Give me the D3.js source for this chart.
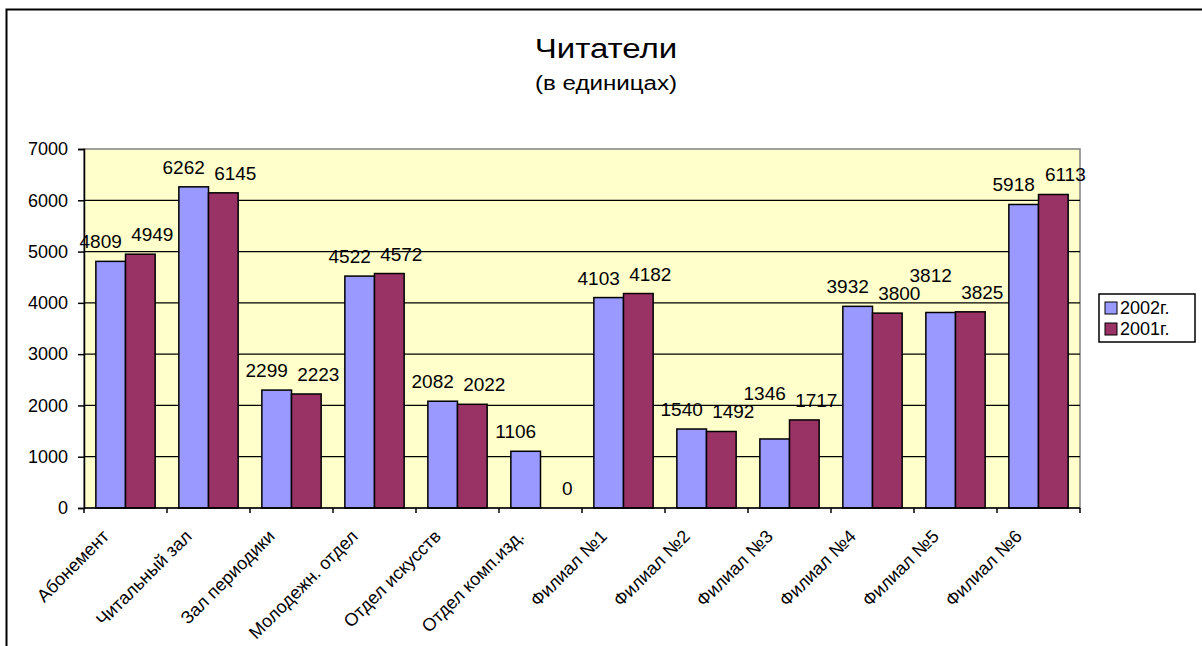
<!DOCTYPE html>
<html>
<head>
<meta charset="utf-8">
<script src="https://cdn.jsdelivr.net/npm/d3@7"></script>
<style>
  body { margin: 0; background: #fff; }
  text { font-family: "Liberation Sans", Arial, sans-serif; fill: #000; }
</style>
</head>
<body>
<svg id="chart"></svg>
<script>
// data
var categories = ["Абонемент", "Читальный зал", "Зал периодики", "Молодежн. отдел",
  "Отдел искусств", "Отдел комп.изд.", "Филиал №1", "Филиал №2", "Филиал №3",
  "Филиал №4", "Филиал №5", "Филиал №6"];
var series = ["2002г.", "2001г."];
var values2002 = [4809, 6262, 2299, 4522, 2082, 1106, 4103, 1540, 1346, 3932, 3812, 5918];
var values2001 = [4949, 6145, 2223, 4572, 2022, 0, 4182, 1492, 1717, 3800, 3825, 6113];
var yTicks = [0, 1000, 2000, 3000, 4000, 5000, 6000, 7000];
var colors = ["#9999ff", "#993366"];

function drawChart() {
  var width = 1202, height = 646;
  var svg = d3.select("#chart").attr("width", width).attr("height", height);

  // outer chart frame (right and bottom edges fall outside the picture)
  svg.append("rect")
    .attr("x", 6.5).attr("y", 9.5)
    .attr("width", 1210).attr("height", 660)
    .attr("fill", "none").attr("stroke", "#000").attr("stroke-width", 2);

  // title (the original is a bit stretched sideways)
  svg.append("text").attr("transform", "translate(606,58) scale(1.18,1)")
    .attr("text-anchor", "middle")
    .style("font-size", "28px").text("Читатели");
  svg.append("text").attr("transform", "translate(606,90) scale(1.15,1)")
    .attr("text-anchor", "middle")
    .style("font-size", "21px").text("(в единицах)");

  // plot area
  var pLeft = 84, pRight = 1080, pTop = 149, pBottom = 508;

  var x0 = d3.scaleBand().domain(categories).range([pLeft, pRight]).paddingInner(0).paddingOuter(0);
  var x1 = d3.scaleBand().domain(series).range([0, x0.bandwidth()]).paddingInner(0).paddingOuter(0.4);
  var y = d3.scaleLinear().domain([0, 7000]).range([pBottom, pTop]);

  svg.append("rect")
    .attr("x", pLeft).attr("y", pTop)
    .attr("width", pRight - pLeft).attr("height", pBottom - pTop)
    .attr("fill", "#ffffcc").attr("stroke", "#808080").attr("stroke-width", 1.5);

  // gridlines
  svg.append("g").selectAll("line")
    .data(yTicks.filter(d => d > 0 && d < 7000))
    .join("line")
    .attr("x1", pLeft).attr("x2", pRight)
    .attr("y1", d => y(d)).attr("y2", d => y(d))
    .attr("stroke", "#000").attr("stroke-width", 1.2);

  // bars
  var rows = categories.map((c, i) => ({ cat: c, vals: [values2002[i], values2001[i]] }));

  var groups = svg.append("g").selectAll("g")
    .data(rows)
    .join("g")
    .attr("transform", d => "translate(" + x0(d.cat) + ",0)");

  groups.selectAll("rect")
    .data(d => d.vals.map((v, j) => ({ s: series[j], v: v, j: j })))
    .join("rect")
    .attr("x", d => x1(d.s))
    .attr("y", d => y(d.v))
    .attr("width", x1.bandwidth())
    .attr("height", d => y(0) - y(d.v))
    .attr("fill", d => colors[d.j])
    .attr("stroke", "#000").attr("stroke-width", 1.5);

  // value labels: pair spread apart, then lift any label that still collides
  var labels = svg.append("g").selectAll("text")
    .data(rows.flatMap(r => r.vals.map((v, j) => ({ cat: r.cat, s: series[j], v: v, j: j }))))
    .join("text")
    .attr("x", d => x0(d.cat) + x1(d.s) + x1.bandwidth() / 2 + (d.j === 0 ? -10 : 12))
    .attr("y", d => y(d.v) - 13)
    .attr("text-anchor", "middle")
    .style("font-size", "19px")
    .text(d => d.v);

  var placed = [];
  labels.each(function () {
    var el = d3.select(this);
    var b = this.getBBox();
    var moved = true;
    while (moved) {
      moved = false;
      for (var k = 0; k < placed.length; k++) {
        var p = placed[k];
        if (b.x < p.x + p.width - 1 && b.x + b.width - 1 > p.x &&
            b.y < p.y + p.height - 4 && b.y + b.height - 4 > p.y) {
          var shift = (b.y + b.height - 4) - p.y + 1;
          el.attr("y", +el.attr("y") - shift);
          b = this.getBBox();
          moved = true;
        }
      }
    }
    placed.push(b);
  });

  // y axis
  var yAxis = svg.append("g")
    .attr("transform", "translate(" + pLeft + ",0)")
    .call(d3.axisLeft(y).tickValues(yTicks).tickSize(6).tickPadding(10).tickFormat(d3.format("d")));
  yAxis.select(".domain").attr("stroke", "#000").attr("stroke-width", 1.5);
  yAxis.selectAll(".tick line").attr("stroke", "#000").attr("stroke-width", 1.5);
  yAxis.selectAll("text").style("font-size", "18px").style("font-family", "'Liberation Sans', Arial, sans-serif");

  // x axis: ticks at category boundaries
  var xg = svg.append("g");
  xg.append("line").attr("x1", pLeft).attr("x2", pRight).attr("y1", pBottom).attr("y2", pBottom)
    .attr("stroke", "#000").attr("stroke-width", 1.5);
  xg.selectAll(".xt")
    .data(categories.concat([null]))
    .join("line")
    .attr("class", "xt")
    .attr("x1", (d, i) => pLeft + i * x0.step()).attr("x2", (d, i) => pLeft + i * x0.step())
    .attr("y1", pBottom).attr("y2", pBottom + 5)
    .attr("stroke", "#000").attr("stroke-width", 1.5);

  xg.selectAll(".xl")
    .data(categories)
    .join("text")
    .attr("class", "xl")
    .attr("transform", d => "translate(" + (x0(d) + x0.bandwidth() / 2 - 20) + "," + (pBottom + 25) + ") rotate(-45)")
    .attr("text-anchor", "end")
    .attr("dy", "0.35em")
    .style("font-size", "18px")
    .text(d => d);

  // legend
  var lg = svg.append("g").attr("transform", "translate(1099,294)");
  lg.append("rect").attr("width", 96).attr("height", 48)
    .attr("fill", "#fff").attr("stroke", "#000").attr("stroke-width", 1.5);
  var items = lg.selectAll(".it").data(series).join("g")
    .attr("class", "it")
    .attr("transform", (d, i) => "translate(6," + (14 + i * 21) + ")");
  items.append("rect").attr("x", 0).attr("y", -6).attr("width", 12).attr("height", 12)
    .attr("fill", (d, i) => colors[i]).attr("stroke", "#000").attr("stroke-width", 1);
  items.append("text").attr("x", 15).attr("dy", "0.36em")
    .style("font-size", "18px").text(d => d);
}

drawChart();
</script>
</body>
</html>
